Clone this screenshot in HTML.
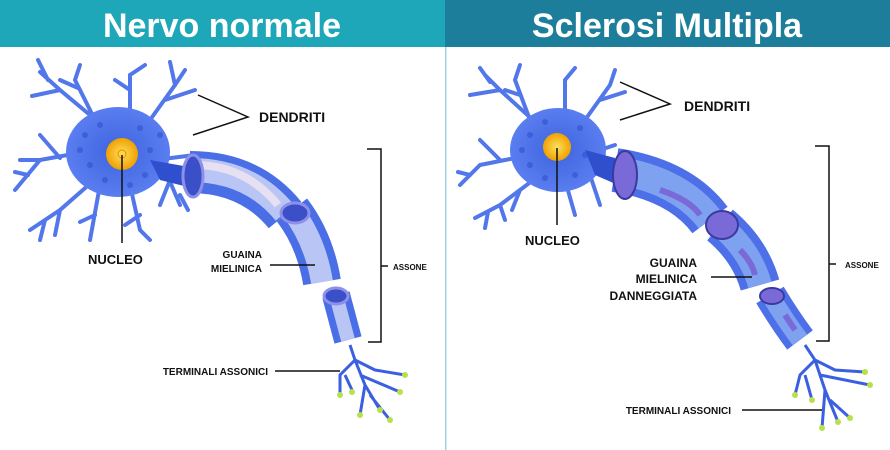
<!DOCTYPE html>
<html><head><style>
body{margin:0;width:890px;height:450px;overflow:hidden;background:#fff;font-family:"Liberation Sans",sans-serif}
svg{position:absolute;left:0;top:0}
</style></head><body>
<svg width="890" height="450" viewBox="0 0 890 450">
<defs>
<radialGradient id="nu"><stop offset="0" stop-color="#ffe060"/><stop offset="1" stop-color="#f0a000"/></radialGradient>
<radialGradient id="soma"><stop offset="0" stop-color="#3d63de"/><stop offset="1" stop-color="#5a7ef0"/></radialGradient>
</defs>
<rect x="0" y="0" width="445" height="47" fill="#1ea7b9"/>
<rect x="445" y="0" width="445" height="47" fill="#1d7e9c"/>
<rect x="445" y="47" width="1.5" height="403" fill="#9ed3e0"/>
<text x="222" y="37" font-size="34" font-weight="bold" fill="#fff" text-anchor="middle">Nervo normale</text>
<text x="667" y="37" font-size="34" font-weight="bold" fill="#fff" text-anchor="middle">Sclerosi Multipla</text>

<!-- LEFT neuron -->
<g stroke="#5277ea" stroke-width="4" stroke-linecap="round" fill="none">
<path d="M120 140 L60 90 L40 72 M60 90 L32 96 M48 80 L38 60 M95 120 L75 80 L80 65 M78 88 L60 80 M130 115 L130 75 L145 65 M130 90 L115 80 M150 120 L175 85 L185 70 M165 100 L195 90 M175 85 L170 62 M95 150 L40 160 L15 190 M60 158 L40 135 M40 160 L20 160 M28 175 L15 172 M100 175 L60 210 L30 230 M60 210 L55 235 M45 220 L40 240 M100 185 L90 240 M95 215 L80 222 M130 185 L140 230 L150 240 M140 215 L125 225 M165 170 L180 205 M155 160 L195 155 M170 180 L160 205 M180 195 L188 210"/>
</g>
<ellipse cx="118" cy="152" rx="52" ry="45" fill="url(#soma)"/>
<g fill="#3050cc" opacity=".6"><circle cx="85" cy="135" r="3"/><circle cx="100" cy="125" r="3"/><circle cx="140" cy="128" r="3"/><circle cx="150" cy="150" r="3"/><circle cx="90" cy="165" r="3"/><circle cx="105" cy="180" r="3"/><circle cx="145" cy="175" r="3"/><circle cx="80" cy="150" r="3"/><circle cx="130" cy="185" r="3"/><circle cx="160" cy="135" r="3"/></g>
<path d="M150 160 L195 168 L200 190 L160 180 Z" fill="#2f4fcf"/>
<circle cx="122" cy="154" r="16" fill="url(#nu)"/>
<circle cx="122" cy="154" r="4" fill="#ffd640" stroke="#e09000"/>
<path d="M190 172 Q250 172 285 215" stroke="#4a6ee6" stroke-width="42" fill="none"/>
<path d="M190 170 Q250 170 285 213" stroke="#b9c6f5" stroke-width="24" fill="none"/>
<path d="M195 165 Q245 165 278 205" stroke="#e6e0f2" stroke-width="8" fill="none"/>
<ellipse cx="193" cy="176" rx="10" ry="21" fill="#3a4fc8" stroke="#8d90e8" stroke-width="3"/>
<path d="M292 210 Q315 240 322 282" stroke="#4a6ee6" stroke-width="38" fill="none"/>
<path d="M292 210 Q315 240 322 282" stroke="#b9c6f5" stroke-width="22" fill="none"/>
<ellipse cx="295" cy="213" rx="14" ry="10" fill="#3a4fc8" stroke="#8d90e8" stroke-width="3"/>
<path d="M336 295 L348 340" stroke="#4a6ee6" stroke-width="28" fill="none"/>
<path d="M336 295 L348 340" stroke="#b9c6f5" stroke-width="14" fill="none"/>
<ellipse cx="336" cy="296" rx="12" ry="8" fill="#3a4fc8" stroke="#8d90e8" stroke-width="3"/>
<g stroke="#3a5fe0" stroke-width="3" fill="none">
<path d="M350 345 L355 360 L340 375 L340 395 M355 360 L375 370 L405 375 M355 360 L365 385 L380 410 M360 375 L400 392 M365 385 L360 415 M370 395 L390 420 M345 375 L352 390"/>
</g>
<g fill="#b8e04a"><circle cx="405" cy="375" r="3"/><circle cx="400" cy="392" r="3"/><circle cx="380" cy="410" r="3"/><circle cx="360" cy="415" r="3"/><circle cx="390" cy="420" r="3"/><circle cx="340" cy="395" r="3"/><circle cx="352" cy="392" r="3"/></g>

<g stroke="#111" stroke-width="1.5" fill="none">
<path d="M198 95 L248 117 L193 135"/>
<path d="M122 155 L122 243"/>
<path d="M367 149 L381 149 L381 342 L368 342 M381 266 L388 266"/>
<path d="M270 265 L315 265"/>
<path d="M275 371 L340 371"/>
</g>
<g font-weight="bold" fill="#111">
<text x="259" y="122" font-size="14">DENDRITI</text>
<text x="88" y="264" font-size="13">NUCLEO</text>
<text x="262" y="258" font-size="10" text-anchor="end">GUAINA</text>
<text x="262" y="272" font-size="10" text-anchor="end">MIELINICA</text>
<text x="393" y="270" font-size="8">ASSONE</text>
<text x="268" y="375" font-size="10" text-anchor="end">TERMINALI ASSONICI</text>
</g>

<!-- RIGHT neuron -->
<g stroke="#5277ea" stroke-width="4" stroke-linecap="round" fill="none">
<path d="M555 140 L500 90 L485 75 M500 90 L470 95 M490 82 L480 68 M530 120 L515 80 L520 65 M520 95 L505 90 M565 115 L565 80 L575 68 M585 120 L610 85 L615 70 M600 100 L625 92 M555 150 L480 165 L460 185 M500 160 L480 140 M470 175 L458 172 M540 175 L500 205 L475 218 M500 205 L505 220 M488 212 L485 228 M565 180 L575 215 M580 165 L610 160 M590 175 L600 205 M600 150 L615 145 M520 190 L512 210"/>
</g>
<ellipse cx="558" cy="150" rx="48" ry="42" fill="url(#soma)"/>
<g fill="#3050cc" opacity=".6"><circle cx="530" cy="135" r="3"/><circle cx="545" cy="122" r="3"/><circle cx="580" cy="128" r="3"/><circle cx="585" cy="155" r="3"/><circle cx="530" cy="165" r="3"/><circle cx="545" cy="178" r="3"/><circle cx="575" cy="175" r="3"/><circle cx="522" cy="150" r="3"/></g>
<path d="M585 150 L615 158 L618 185 L595 175 Z" fill="#2f4fcf"/>
<circle cx="557" cy="147" r="14" fill="url(#nu)"/>
<path d="M615 170 Q680 180 710 220" stroke="#4d6fe8" stroke-width="44" fill="none"/>
<path d="M615 170 Q680 180 710 220" stroke="#7ea2f0" stroke-width="28" fill="none"/>
<path d="M660 190 Q690 200 700 215" stroke="#7a6ad8" stroke-width="6" fill="none"/>
<ellipse cx="625" cy="175" rx="12" ry="24" fill="#7a6ad8" stroke="#3a3aa0" stroke-width="2"/>
<path d="M720 225 Q750 250 760 285" stroke="#4d6fe8" stroke-width="40" fill="none"/>
<path d="M720 225 Q750 250 760 285" stroke="#7ea2f0" stroke-width="24" fill="none"/>
<path d="M740 250 Q752 262 755 275" stroke="#7a6ad8" stroke-width="6" fill="none"/>
<ellipse cx="722" cy="225" rx="16" ry="14" fill="#7a6ad8" stroke="#3a3aa0" stroke-width="2"/>
<path d="M770 295 Q785 320 800 340" stroke="#4d6fe8" stroke-width="32" fill="none"/>
<path d="M770 295 Q785 320 800 340" stroke="#7ea2f0" stroke-width="18" fill="none"/>
<path d="M785 315 L795 330" stroke="#7a6ad8" stroke-width="6" fill="none"/>
<ellipse cx="772" cy="296" rx="12" ry="8" fill="#7a6ad8" stroke="#3a3aa0" stroke-width="2"/>
<g stroke="#3a5fe0" stroke-width="3" fill="none">
<path d="M805 345 L815 360 L800 375 L795 395 M815 360 L835 370 L865 372 M815 360 L825 390 L838 422 M820 375 L870 385 M825 390 L822 428 M830 400 L850 418 M805 375 L812 400"/>
</g>
<g fill="#b8e04a"><circle cx="865" cy="372" r="3"/><circle cx="870" cy="385" r="3"/><circle cx="838" cy="422" r="3"/><circle cx="822" cy="428" r="3"/><circle cx="850" cy="418" r="3"/><circle cx="795" cy="395" r="3"/><circle cx="812" cy="400" r="3"/></g>

<g stroke="#111" stroke-width="1.5" fill="none">
<path d="M620 82 L670 104 L620 120"/>
<path d="M557 148 L557 225"/>
<path d="M815 146 L829 146 L829 341 L816 341 M829 264 L836 264"/>
<path d="M711 277 L752 277"/>
<path d="M742 410 L822 410"/>
</g>
<g font-weight="bold" fill="#111">
<text x="684" y="111" font-size="14">DENDRITI</text>
<text x="525" y="245" font-size="13">NUCLEO</text>
<text x="697" y="267" font-size="12" text-anchor="end">GUAINA</text>
<text x="697" y="283" font-size="12" text-anchor="end">MIELINICA</text>
<text x="697" y="300" font-size="12" text-anchor="end">DANNEGGIATA</text>
<text x="845" y="268" font-size="8">ASSONE</text>
<text x="731" y="414" font-size="10" text-anchor="end">TERMINALI ASSONICI</text>
</g>
</svg>
</body></html>
